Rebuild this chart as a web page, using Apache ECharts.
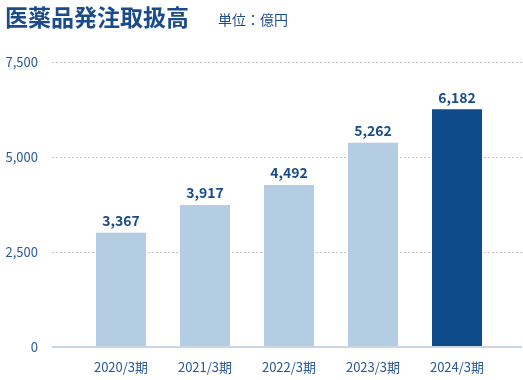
<!DOCTYPE html>
<html><head><meta charset="utf-8">
<script src="https://cdn.jsdelivr.net/npm/echarts@6/dist/echarts.min.js"></script>
<style>html,body{margin:0;padding:0;background:#fff}#c{width:523px;height:380px}</style>
</head><body><div id="c"></div>
<script>
var categories = ['2020/3期','2021/3期','2022/3期','2023/3期','2024/3期'];
// bar heights as drawn in the picture
var barValues = [3008, 3737, 4263, 5376, 6255];
// value labels as printed above the bars
var valueLabels = ['3,367', '3,917', '4,492', '5,262', '6,182'];
var yTicks = [0, 2500, 5000, 7500];
var FONT = '"Noto Sans CJK JP","Noto Sans",sans-serif';
var chart = echarts.init(document.getElementById('c'), null, {renderer:'canvas'});
chart.setOption({
  animation:false,
  title:[
    {text:'医薬品発注取扱高', left:0, top:1, textStyle:{fontFamily:FONT, fontSize:23, fontWeight:'bold', color:'#1a4c8b'}},
    {text:'単位：億円', left:213, top:8, textStyle:{fontFamily:FONT, fontSize:14, fontWeight:'normal', color:'#1a4c8b'}}
  ],
  grid:[
    {left:52, right:1, top:62, bottom:33},
    {left:79, right:24, top:62, bottom:33}
  ],
  xAxis:[
    {gridIndex:0, type:'value', show:false, min:0, max:1},
    {gridIndex:1, type:'category', data:categories,
     axisLine:{show:false}, axisTick:{show:false},
     axisLabel:{fontFamily:FONT, fontSize:13, color:'#2a5894', margin:14}}
  ],
  yAxis:[
    {gridIndex:0, type:'value', min:yTicks[0], max:yTicks[yTicks.length-1], interval:2500,
     axisLine:{show:false}, axisTick:{show:false},
     axisLabel:{fontFamily:FONT, fontSize:13, color:'#2a5894', margin:14,
       formatter:function(v){return v.toLocaleString('en-US');}},
     splitLine:{show:true, lineStyle:{type:[2,2], color:'#c4c4c4', width:1}}},
    {gridIndex:1, type:'value', min:yTicks[0], max:yTicks[yTicks.length-1], interval:2500, show:false}
  ],
  series:[
    {type:'line', xAxisIndex:0, yAxisIndex:0, data:[[0,0],[1,0]], symbol:'none', silent:true,
     lineStyle:{color:'#c9d6e6', width:2}, z:5},
    {type:'bar', xAxisIndex:1, yAxisIndex:1, barWidth:50,
     data: barValues.map(function(v,i){return {value:v, itemStyle:{color: i===barValues.length-1 ? '#0f4a8b' : '#b5cde2'}};}),
     label:{show:true, position:'top', distance:5, fontFamily:FONT, fontSize:14, fontWeight:'bold', color:'#1a4c8b',
       formatter:function(p){return valueLabels[p.dataIndex];}}, z:2}
  ]
});
</script></body></html>
